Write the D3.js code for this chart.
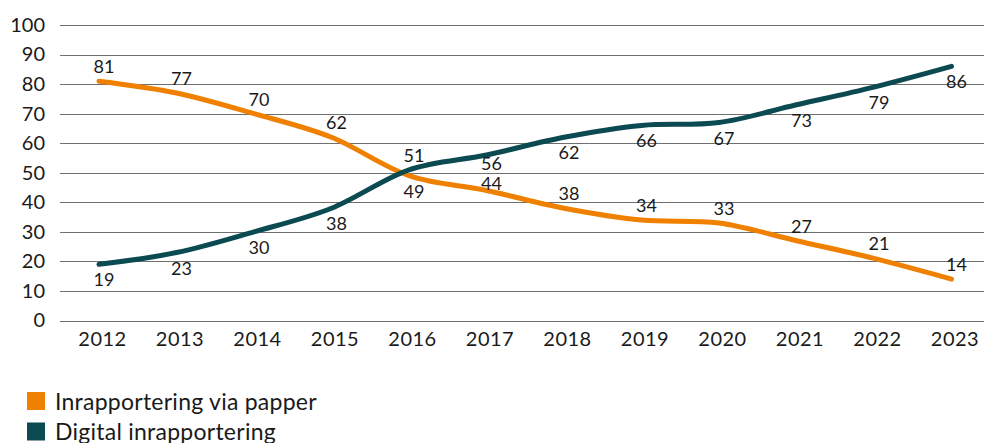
<!DOCTYPE html>
<html>
<head>
<meta charset="utf-8">
<script src="https://cdn.jsdelivr.net/npm/d3@7"></script>
<style>
  html, body { margin: 0; padding: 0; background: #fff; }
  svg { display: block; font-family: Lato, "Open Sans", sans-serif; }
</style>
</head>
<body>
<svg id="chart" width="984" height="443"></svg>
<script>
// Andel inrapportering per år (procent)
const years = ["2012","2013","2014","2015","2016","2017","2018","2019","2020","2021","2022","2023"];
const paper = [81, 77, 70, 62, 49, 44, 38, 34, 33, 27, 21, 14];
const digital = [19, 23, 30, 38, 51, 56, 62, 66, 67, 73, 79, 86];
const yTicks = [0, 10, 20, 30, 40, 50, 60, 70, 80, 90, 100];
const seriesNames = ["Inrapportering via papper", "Digital inrapportering"];
// Label placement per point: paper above, digital below, swapped where the lines cross
const paperLabelSide = ["up","up","up","up","down","up","up","up","up","up","up","up"];
const digitalLabelSide = ["down","down","down","down","up","down","down","down","down","down","down","down"];

const colors = ["#F08000", "#0C4A52"];

const svg = d3.select("#chart");

const x = d3.scalePoint().domain(years).range([99, 951.5]);
const y = d3.scaleLinear().domain([0, 100]).range([320.5, 25]);

// Horizontal gridlines
svg.append("g")
  .selectAll("line")
  .data(yTicks)
  .join("line")
  .attr("x1", 60).attr("x2", 984)
  .attr("y1", d => Math.round(y(d)) + 0.5)
  .attr("y2", d => Math.round(y(d)) + 0.5)
  .attr("stroke", "#6f6f6f")
  .attr("stroke-width", 1);

// Y axis labels
const yAxis = svg.append("g")
  .attr("transform", "translate(52,0)")
  .call(d3.axisLeft(y).tickValues(yTicks).tickSize(0).tickPadding(7));
yAxis.select(".domain").remove();
yAxis.selectAll("text")
  .attr("font-family", "Lato, sans-serif")
  .attr("font-size", 20)
  .attr("fill", "#1a1a1a");

// X axis labels
const xAxis = svg.append("g")
  .attr("transform", "translate(3,328)")
  .call(d3.axisBottom(x).tickSize(0).tickPadding(4));
xAxis.select(".domain").remove();
xAxis.selectAll("text")
  .attr("font-family", "Lato, sans-serif")
  .attr("font-size", 20)
  .attr("letter-spacing", 0.5)
  .attr("fill", "#1a1a1a");

const line = d3.line()
  .x((d, i) => x(years[i]))
  .y(d => y(d))
  .curve(d3.curveCardinal.tension(0));

const series = [
  { values: paper, color: colors[0], side: paperLabelSide },
  { values: digital, color: colors[1], side: digitalLabelSide }
];

series.forEach(s => {
  svg.append("path")
    .datum(s.values)
    .attr("d", line)
    .attr("fill", "none")
    .attr("stroke", s.color)
    .attr("stroke-width", 5)
    .attr("stroke-linecap", "round")
    .attr("stroke-linejoin", "round");
});

// Label baselines: above a point by 8px, below by 22px
const baselines = series.map(s =>
  s.values.map((d, i) => y(d) + (s.side[i] === "up" ? -8 : 22)));

// Where two labels of the same year collide, spread them evenly around their midpoint
const minGap = 20;
years.forEach((yr, i) => {
  const a = baselines[0][i], b = baselines[1][i];
  if (Math.abs(a - b) < minGap) {
    const mid = (a + b) / 2;
    const sign = a > b ? 1 : -1;
    baselines[0][i] = mid + sign * minGap / 2;
    baselines[1][i] = mid - sign * minGap / 2;
  }
});

// Data labels
series.forEach((s, k) => {
  svg.append("g")
    .selectAll("text")
    .data(s.values)
    .join("text")
    .attr("x", (d, i) => x(years[i]) + 5)
    .attr("y", (d, i) => baselines[k][i])
    .attr("text-anchor", "middle")
    .attr("font-size", 18)
    .attr("fill", "#1a1a1a")
    .text(d => d);
});

// Legend
const legend = svg.append("g").attr("transform", "translate(27,392)");
seriesNames.forEach((name, i) => {
  const g = legend.append("g").attr("transform", `translate(0,${i * 30.5})`);
  g.append("rect").attr("width", 18).attr("height", 18).attr("fill", colors[i]);
  g.append("text")
    .attr("x", 28).attr("y", 17.5)
    .attr("font-size", 23)
    .attr("letter-spacing", 0.25)
    .attr("fill", "#1a1a1a")
    .text(name);
});
</script>
</body>
</html>
